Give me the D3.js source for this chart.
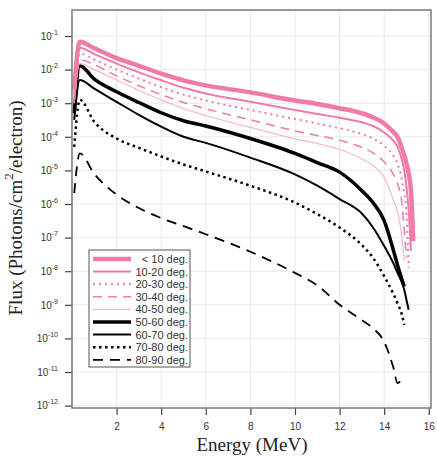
<!DOCTYPE html>
<html>
<head>
<meta charset="utf-8">
<script src="https://cdn.jsdelivr.net/npm/d3@7"></script>
<style>
body { margin: 0; background: #fff; }
svg { display: block; }
</style>
</head>
<body>
<div id="chart"></div>
<script>
// energy grid (MeV) shared by all curves, null = curve already ended
var energy = [0.1, 0.35, 1, 2, 3, 4, 5, 6, 8, 10, 11, 12, 13, 13.5, 14, 14.4, 14.6, 14.8, 14.9, 15.0, 15.1, 15.2, 15.3];

var fluxLt10 = [2.5e-3, 6.8e-2, 4.3e-2, 2.2e-2, 1.3e-2, 7.6e-3, 4.8e-3, 3.4e-3, 2.1e-3, 1.2e-3, 9.5e-4, 7.1e-4, 5.0e-4, 3.8e-4, 2.5e-4, 1.4e-4, 1.0e-4, 4.5e-5, 2.8e-5, 1.6e-5, 7.9e-6, 2.5e-6, 7.9e-8];
var flux10to20 = [1.8e-3, 4.5e-2, 2.9e-2, 1.5e-2, 8.3e-3, 4.8e-3, 2.9e-3, 1.95e-3, 1.1e-3, 6.3e-4, 4.8e-4, 3.7e-4, 2.7e-4, 2.1e-4, 1.35e-4, 7.9e-5, 5.0e-5, 2.0e-5, 1.0e-5, 3.2e-6, 6.3e-7, 4.0e-8, null];
var flux20to30 = [1.4e-3, 3.0e-2, 2.0e-2, 1.0e-2, 5.4e-3, 3.0e-3, 1.8e-3, 1.2e-3, 6.3e-4, 3.4e-4, 2.5e-4, 1.8e-4, 1.2e-4, 8.9e-5, 5.4e-5, 2.8e-5, 1.6e-5, 5.0e-6, 2.0e-6, 5.0e-7, 1.26e-8, null, null];
var flux30to40 = [1.1e-3, 1.95e-2, 1.4e-2, 6.5e-3, 3.3e-3, 1.8e-3, 1.05e-3, 6.8e-4, 3.2e-4, 1.5e-4, 1.1e-4, 7.9e-5, 4.8e-5, 3.3e-5, 1.8e-5, 7.9e-6, 4.0e-6, 1.0e-6, 1.6e-7, 2.5e-8, null, null, null];
var flux40to50 = [1.0e-3, 1.5e-2, 1.0e-2, 4.9e-3, 2.4e-3, 1.26e-3, 6.9e-4, 4.3e-4, 1.9e-4, 8.7e-5, 6.3e-5, 4.2e-5, 2.2e-5, 1.4e-5, 6.3e-6, 1.4e-6, 5.6e-7, 1.0e-7, 2.0e-8, null, null, null, null];
var flux50to60 = [5.0e-4, 1.3e-2, 5.2e-3, 2.2e-3, 1.05e-3, 5.2e-4, 3.0e-4, 2.1e-4, 8.9e-5, 3.2e-5, 1.7e-5, 8.9e-6, 2.5e-6, 1.1e-6, 3.2e-7, 4.5e-8, 1.5e-8, 5.6e-9, 3.5e-9, null, null, null, null];
var flux60to70 = [3.2e-4, 4.9e-3, 2.7e-3, 1.1e-3, 4.5e-4, 2.0e-4, 1.0e-4, 6.6e-5, 2.4e-5, 7.6e-6, 3.5e-6, 1.4e-6, 5.2e-7, 2.0e-7, 5.6e-8, 1.8e-8, 8.9e-9, 4.5e-9, 2.8e-9, 1.4e-9, 7.1e-10, null, null];
var flux70to80 = [5.0e-5, 1.26e-3, 2.8e-4, 8.9e-5, 4.7e-5, 2.6e-5, 1.5e-5, 9.3e-6, 3.5e-6, 1.1e-6, 5.0e-7, 2.0e-7, 6.0e-8, 2.5e-8, 7.1e-9, 2.2e-9, 1.1e-9, 5.0e-10, 2.5e-10, null, null, null, null];
var flux80to90 = [2.1e-6, 3.2e-5, 7.9e-6, 1.9e-6, 7.6e-7, 3.8e-7, 2.2e-7, 1.26e-7, 3.8e-8, 8.9e-9, 3.8e-9, 1.0e-9, 3.5e-10, 2.0e-10, 7.9e-11, 1.45e-11, 4.7e-12, 6.3e-12, null, null, null, null, null];

var seriesNames = ["< 10 deg.", "10-20 deg.", "20-30 deg.", "30-40 deg.", "40-50 deg.", "50-60 deg.", "60-70 deg.", "70-80 deg.", "80-90 deg."];
var seriesFlux = [fluxLt10, flux10to20, flux20to30, flux30to40, flux40to50, flux50to60, flux60to70, flux70to80, flux80to90];

var xTicks = [2, 4, 6, 8, 10, 12, 14, 16];
var yTicks = [1e-1, 1e-2, 1e-3, 1e-4, 1e-5, 1e-6, 1e-7, 1e-8, 1e-9, 1e-10, 1e-11, 1e-12];
var yTickExp = ["-1", "-2", "-3", "-4", "-5", "-6", "-7", "-8", "-9", "-10", "-11", "-12"];

var pink = "#f27aa9";
var lightPink = "#f5b9cd";
var lineStyles = [
    {color: pink, width: 4.5, dash: null},
    {color: pink, width: 2, dash: null},
    {color: pink, width: 2, dash: "2,4"},
    {color: pink, width: 1.5, dash: "9,6"},
    {color: lightPink, width: 1.2, dash: null},
    {color: "#000", width: 3.5, dash: null},
    {color: "#000", width: 2, dash: null},
    {color: "#000", width: 2.5, dash: "2.5,3.5"},
    {color: "#000", width: 1.8, dash: "10,7"}
];

var W = 437, H = 457;
var plot = {left: 72, top: 10, right: 431, bottom: 408};

function drawChart() {
    var svg = d3.select("#chart").append("svg").attr("width", W).attr("height", H);

    var x = d3.scaleLinear().domain([0, 16.1]).range([plot.left, plot.right]);
    var y = d3.scaleLog().domain([8.5e-13, 0.594]).range([plot.bottom, plot.top]);

    // grid
    svg.append("g").selectAll("line").data(xTicks).enter().append("line")
        .attr("x1", function (d) { return x(d); }).attr("x2", function (d) { return x(d); })
        .attr("y1", plot.top).attr("y2", plot.bottom)
        .style("stroke", "#e9e9e9").style("stroke-width", 1);
    svg.append("g").selectAll("line").data(yTicks).enter().append("line")
        .attr("x1", plot.left).attr("x2", plot.right)
        .attr("y1", function (d) { return y(d); }).attr("y2", function (d) { return y(d); })
        .style("stroke", "#e9e9e9").style("stroke-width", 1);

    svg.append("clipPath").attr("id", "plotClip").append("rect")
        .attr("x", plot.left).attr("y", plot.top)
        .attr("width", plot.right - plot.left).attr("height", plot.bottom - plot.top);

    var line = d3.line()
        .defined(function (d) { return d[1] != null; })
        .x(function (d) { return x(d[0]); })
        .y(function (d) { return y(d[1]); })
        .curve(d3.curveMonotoneX);

    var curves = svg.append("g").attr("clip-path", "url(#plotClip)");
    // draw last series first so the pink ones stay on top like the original
    for (var i = seriesFlux.length - 1; i >= 0; i--) {
        var pts = energy.map(function (e, j) { return [e, seriesFlux[i][j]]; });
        var st = lineStyles[i];
        curves.append("path").datum(pts)
            .attr("d", line)
            .style("fill", "none")
            .style("stroke", st.color)
            .style("stroke-width", st.width)
            .style("stroke-dasharray", st.dash)
            .style("stroke-linejoin", "round");
    }

    // axes
    var xAxis = d3.axisBottom(x).tickValues(xTicks).tickSize(7).tickPadding(4)
        .tickFormat(d3.format("d"));
    var gx = svg.append("g").attr("transform", "translate(0," + plot.bottom + ")").call(xAxis);
    gx.select(".domain").remove();
    gx.selectAll("line").style("stroke", "#444").style("stroke-width", 1.2);
    gx.selectAll("text").style("font-family", "'Liberation Sans', Arial, sans-serif")
        .style("font-size", "10px").style("fill", "#333").attr("dy", "1.05em");

    var yAxis = d3.axisLeft(y).tickValues(yTicks).tickSize(7).tickFormat("");
    var gy = svg.append("g").attr("transform", "translate(" + plot.left + ",0)").call(yAxis);
    gy.select(".domain").remove();
    gy.selectAll("line").style("stroke", "#444").style("stroke-width", 1.2);

    var yLab = svg.append("g").selectAll("text").data(yTicks).enter().append("text")
        .attr("x", 58).attr("y", function (d) { return y(d); })
        .attr("dy", "0.38em").attr("text-anchor", "end")
        .style("font-family", "'Liberation Sans', Arial, sans-serif")
        .style("font-size", "10px").style("fill", "#333");
    yLab.append("tspan").text("10");
    yLab.append("tspan").attr("dy", "-5").style("font-size", "7px")
        .text(function (d, i) { return yTickExp[i]; });

    // frame
    svg.append("rect").attr("x", plot.left).attr("y", plot.top)
        .attr("width", plot.right - plot.left).attr("height", plot.bottom - plot.top)
        .style("fill", "none").style("stroke", "#7a7a7a").style("stroke-width", 1.5);

    // axis titles
    svg.append("text").attr("x", 252).attr("y", 451).attr("text-anchor", "middle")
        .style("font-family", "'Liberation Serif', 'Times New Roman', serif")
        .style("font-size", "19px").style("fill", "#222")
        .text("Energy (MeV)");

    var yt = svg.append("text").attr("transform", "translate(22,208) rotate(-90)")
        .attr("text-anchor", "middle")
        .style("font-family", "'Liberation Serif', 'Times New Roman', serif")
        .style("font-size", "19px").style("fill", "#222");
    yt.append("tspan").text("Flux (Photons/cm");
    yt.append("tspan").attr("dy", -9).style("font-size", "13px").text("2");
    yt.append("tspan").attr("dy", 9).text("/electron)");

    drawLegend(svg);
}

function drawLegend(svg) {
    var lx = 89, ly = 250, lw = 101, lh = 117;
    var rowH = 12.6;
    var leg = svg.append("g").attr("class", "legend");
    leg.append("rect").attr("x", lx).attr("y", ly).attr("width", lw).attr("height", lh)
        .style("fill", "#fff").style("stroke", "#555").style("stroke-width", 1);

    var rows = leg.selectAll("g.legendElt").data(seriesNames).enter().append("g")
        .attr("class", "legendElt")
        .attr("transform", function (d, i) {
            return "translate(" + lx + "," + (ly + 9 + i * rowH) + ")";
        });
    rows.append("line").attr("x1", 4).attr("x2", 42).attr("y1", 0).attr("y2", 0)
        .style("stroke", function (d, i) { return lineStyles[i].color; })
        .style("stroke-width", function (d, i) { return lineStyles[i].width; })
        .style("stroke-dasharray", function (d, i) { return lineStyles[i].dash; });
    rows.append("text").attr("x", 99).attr("dy", "0.36em").attr("text-anchor", "end")
        .style("font-family", "'Liberation Sans', Arial, sans-serif")
        .style("font-size", "11px").style("fill", "#333")
        .text(function (d) { return d; });
}

drawChart();
</script>
</body>
</html>
